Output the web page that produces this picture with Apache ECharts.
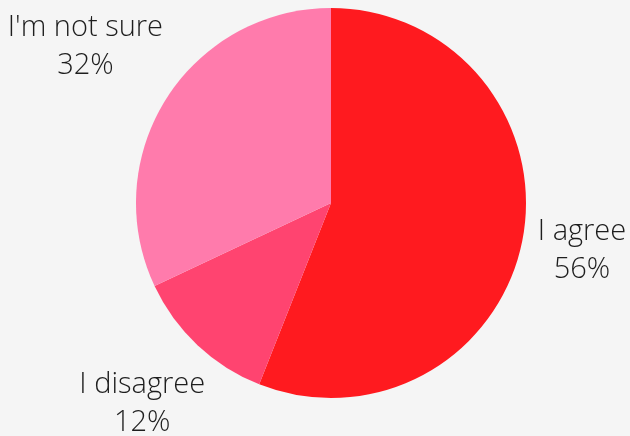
<!DOCTYPE html>
<html>
<head>
<meta charset="utf-8">
<style>
  html, body { margin: 0; padding: 0; background: #f5f5f5; }
  #chart { width: 630px; height: 436px; }
</style>
<script src="https://cdn.jsdelivr.net/npm/echarts@6/dist/echarts.min.js"></script>
</head>
<body>
<div id="chart"></div>
<script>
const categories = ["I agree", "I disagree", "I'm not sure"];
const values = [56, 12, 32];
const colors = ["#ff1a1f", "#ff4470", "#ff7bac"];

const CX = 331, CY = 203, R = 195, GAP = 10;
const total = values.reduce((a, b) => a + b, 0);

function midAngle(i) {
  let cum = 0;
  for (let k = 0; k < i; k++) cum += values[k];
  return ((cum + values[i] / 2) / total) * Math.PI * 2; // clockwise from top
}

const chart = echarts.init(document.getElementById('chart'), null, { renderer: 'canvas' });
chart.setOption({
  backgroundColor: '#f5f5f5',
  animation: false,
  series: [{
    type: 'pie',
    center: [CX, CY],
    radius: R,
    startAngle: 90,
    clockwise: true,
    data: categories.map((c, i) => ({ name: c, value: values[i], itemStyle: { color: colors[i] } })),
    label: {
      show: true,
      position: 'outside',
      formatter: p => p.name + '\n' + p.value + '%',
      fontFamily: 'Open Sans',
      fontWeight: 300,
      fontSize: 29,
      lineHeight: 38,
      color: '#1e1e1e',
      align: 'center',
      overflow: 'none'
    },
    labelLine: { show: false },
    labelLayout: function (params) {
      const a = midAngle(params.dataIndex);
      const dx = Math.sin(a), dy = -Math.cos(a);
      const w = params.labelRect.width, h = params.labelRect.height;
      const ext = Math.abs(dx) * w / 2 + Math.abs(dy) * h / 2;
      const d = R + GAP + ext;
      return { x: CX + dx * d, y: CY + dy * d, align: 'center', verticalAlign: 'middle' };
    },
    emphasis: { disabled: true }
  }]
});
</script>
</body>
</html>
